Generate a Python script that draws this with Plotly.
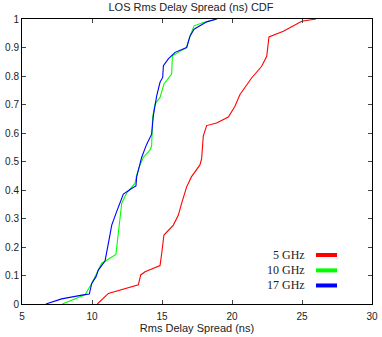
import plotly.graph_objects as go

# RMS delay spread (ns) vs cumulative probability, per carrier frequency
x_5ghz = [10.38, 11.17, 13.31, 13.48, 13.79, 14.86, 14.98, 15.14, 15.81, 16.17, 16.40,
          16.76, 17.10, 17.71, 17.83, 17.95, 18.19, 18.90, 19.74, 20.21, 20.57, 21.40,
          22.12, 22.48, 22.64, 23.67, 24.98, 26.00]
y_5ghz = [0.000, 0.037, 0.067, 0.102, 0.113, 0.135, 0.178, 0.242, 0.277, 0.312, 0.353,
          0.411, 0.446, 0.488, 0.510, 0.589, 0.626, 0.635, 0.656, 0.694, 0.735, 0.793,
          0.834, 0.869, 0.937, 0.957, 0.992, 1.000]

x_10ghz = [7.88, 9.50, 9.98, 10.33, 10.69, 11.71, 11.88, 12.05, 12.12, 12.48, 13.07,
           13.19, 13.43, 13.67, 14.14, 14.26, 14.33, 14.50, 14.86, 15.14, 15.38, 15.69,
           15.74, 16.17, 16.76, 17.00, 17.29, 17.95, 18.95]
y_10ghz = [0.000, 0.032, 0.072, 0.105, 0.143, 0.174, 0.242, 0.312, 0.353, 0.390, 0.423,
           0.452, 0.488, 0.515, 0.540, 0.555, 0.655, 0.702, 0.725, 0.772, 0.789, 0.807,
           0.871, 0.883, 0.900, 0.940, 0.976, 0.988, 1.000]

x_17ghz = [6.71, 7.83, 9.38, 9.81, 9.98, 10.29, 10.45, 10.93, 11.17, 11.41, 11.76,
           12.19, 12.24, 12.83, 13.14, 13.19, 13.38, 13.48, 13.55, 13.90, 14.26, 14.38,
           14.62, 14.86, 15.05, 15.10, 15.45, 15.93, 16.76, 17.00, 17.29, 18.19, 18.90]
y_17ghz = [0.000, 0.018, 0.032, 0.035, 0.072, 0.096, 0.119, 0.151, 0.213, 0.277, 0.324,
           0.376, 0.386, 0.405, 0.414, 0.446, 0.488, 0.505, 0.515, 0.560, 0.596, 0.660,
           0.730, 0.778, 0.795, 0.836, 0.860, 0.883, 0.900, 0.940, 0.964, 0.990, 1.000]

series_names = ["5 GHz", "10 GHz", "17 GHz"]
series_colors = ["#ff0000", "#00ff00", "#0000ff"]

x_ticks = [5, 10, 15, 20, 25, 30]
y_ticks = [0, 0.1, 0.2, 0.3, 0.4, 0.5, 0.6, 0.7, 0.8, 0.9, 1]
y_tick_text = ["0", "0.1", "0.2", "0.3", "0.4", "0.5", "0.6", "0.7", "0.8", "0.9", "1"]

fig = go.Figure()
for xs, ys, name, col in zip([x_5ghz, x_10ghz, x_17ghz], [y_5ghz, y_10ghz, y_17ghz],
                             series_names, series_colors):
    fig.add_trace(go.Scatter(x=xs, y=ys, mode="lines", name=name,
                             line=dict(color=col, width=1.1), showlegend=False))

# Key in the lower right: label on the left, line sample on the right
key_y = [0.172, 0.118, 0.065]
for name, col, ky in zip(series_names, series_colors, key_y):
    fig.add_annotation(xref="paper", yref="paper", x=0.814, y=ky, text=name,
                       showarrow=False, xanchor="right", yanchor="middle",
                       font=dict(family="Liberation Serif", size=12, color="#222"))
    fig.add_shape(type="line", xref="paper", yref="paper", x0=0.84, x1=0.9,
                  y0=ky, y1=ky, line=dict(color=col, width=4))

axis_font = dict(family="Liberation Sans", size=10, color="#222")
fig.update_layout(
    width=382, height=337,
    margin=dict(l=22, r=10, t=19, b=33, autoexpand=False),
    paper_bgcolor="white", plot_bgcolor="white",
    title=dict(text="LOS Rms Delay Spread (ns) CDF", x=0.5, xanchor="center",
               y=0.978, yanchor="middle",
               font=dict(family="Liberation Sans", size=11, color="#222")),
    xaxis=dict(range=[5, 30], tickvals=x_ticks, ticks="inside", ticklen=4,
               showline=True, linecolor="black", linewidth=1, mirror="ticks",
               showgrid=False, zeroline=False, tickfont=axis_font, automargin=False,
               ticklabelstandoff=3,
               title=dict(text="Rms Delay Spread (ns)", standoff=2,
                          font=dict(family="Liberation Sans", size=11, color="#222"))),
    yaxis=dict(range=[0, 1], tickvals=y_ticks, ticktext=y_tick_text, ticks="inside",
               ticklen=4, showline=True, linecolor="black", linewidth=1,
               mirror="ticks", showgrid=False, zeroline=False, tickfont=axis_font,
               automargin=False),
)

fig.write_html("out.html")
